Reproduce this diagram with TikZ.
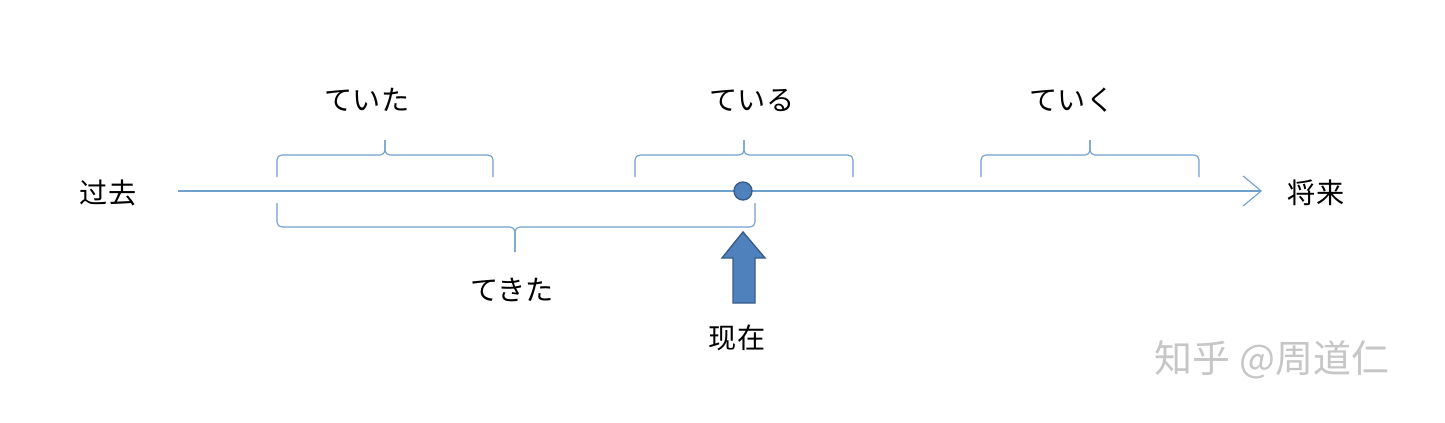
\documentclass[tikz,border=0pt]{standalone}
\usepackage{fontspec}
\setmainfont{Noto Sans CJK JP}
\usetikzlibrary{positioning,arrows.meta}
\definecolor{lineblue}{RGB}{110,160,205}
\definecolor{dotblue}{RGB}{79,129,189}
\definecolor{dotedge}{RGB}{56,93,138}
\tikzset{
  lbl/.style={font=\fontsize{20pt}{22pt}\selectfont, inner sep=0pt},
  brc/.style={lineblue, line width=0.8pt, rounded corners=0.12cm},
  blk/.style={fill=dotblue, draw=dotedge, line width=1pt, line join=miter},
}
% bracket from (#1) to (#2), tip at (#3), spine at height #4
\newcommand{\timebrace}[4]{
  \draw[brc] (#1) -- (#1 |- 0,#4) -- (#3 |- 0,#4) -- (#3);
  \draw[brc] (#2) -- (#2 |- 0,#4) -- (#3 |- 0,#4) -- (#3);
}

\begin{document}
\begin{tikzpicture}[x=0.025cm, y=-0.025cm]
  \useasboundingbox (0,0) rectangle (1445,422);

  % time axis
  \coordinate (start) at (178,191);
  \coordinate (end) at (1262,191);
  \draw[lineblue, line width=0.8pt, -{Straight Barb[length=0.45cm, width=0.75cm]}] (start) -- (end);
  \node[lbl] (past) at (108,193) {过去};
  \node[lbl] (future) at (1316,193) {将来};

  % braces above
  \coordinate (ta1) at (277,177); \coordinate (ta2) at (493,177); \coordinate (tat) at (385,140);
  \coordinate (ir1) at (635,177); \coordinate (ir2) at (853,177); \coordinate (irt) at (744,140);
  \coordinate (ik1) at (981,177); \coordinate (ik2) at (1199,177); \coordinate (ikt) at (1090,140);
  \timebrace{ta1}{ta2}{tat}{155}
  \timebrace{ir1}{ir2}{irt}{155}
  \timebrace{ik1}{ik2}{ikt}{155}
  \node[lbl] (teita) at (367,100) {ていた};
  \node[lbl] (teiru) at (752,100) {ている};
  \node[lbl] (teiku) at (1072,100) {ていく};

  % brace below
  \coordinate (tk1) at (277,203); \coordinate (tk2) at (755,203); \coordinate (tkt) at (515,252);
  \timebrace{tk1}{tk2}{tkt}{227}
  \node[lbl] (tekita) at (512,290) {てきた};

  % now
  \node[circle, blk, minimum size=0.45cm, inner sep=0pt] (dot) at (743,191) {};
  \coordinate (tip) at (743,232);
  \draw[blk] (tip) -- (765,258) -- (755,258) -- (755,303) -- (733,303) -- (733,258) -- (722,258) -- cycle;
  \node[lbl] (now) at (737,338) {现在};

  \node[lbl, gray!45, font=\fontsize{27pt}{30pt}\selectfont] (mark) at (1272,360) {知乎 @周道仁};
\end{tikzpicture}
\end{document}
